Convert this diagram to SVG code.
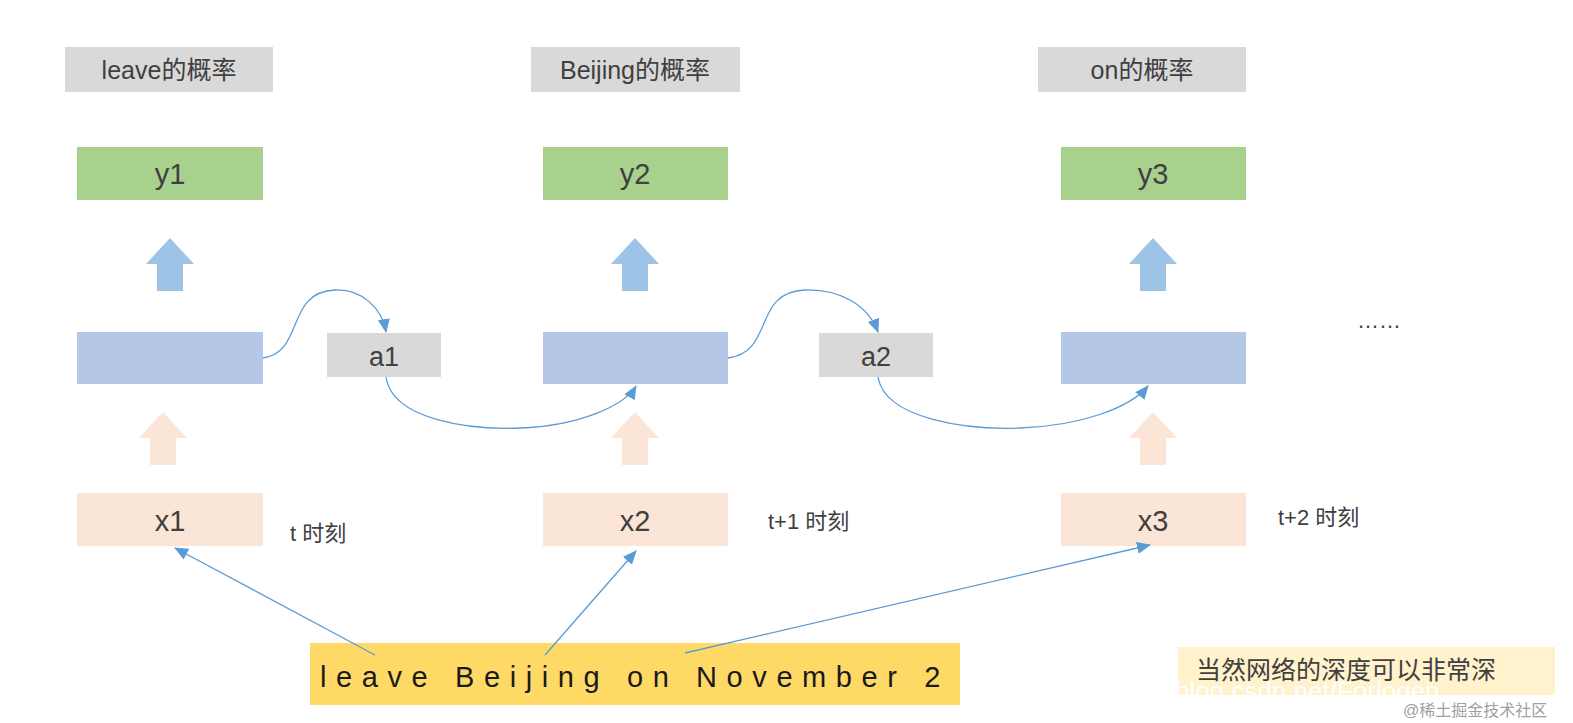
<svg xmlns="http://www.w3.org/2000/svg" width="1573" height="723" viewBox="0 0 1573 723">
<defs>
<style>
text{font-family:"Liberation Sans","Noto Sans CJK SC",sans-serif;fill:#404040}
.g{fill:#d9d9d9}.gr{fill:#a9d18e}.b{fill:#b4c7e7}.p{fill:#fbe5d6}
.c{fill:none;stroke:#5b9bd5;stroke-width:1.3}
.t{font-size:25px;text-anchor:middle}
</style>
<marker id="ar" markerWidth="14" markerHeight="14" refX="13" refY="6" orient="auto" markerUnits="userSpaceOnUse" viewBox="0 0 14 12"><path d="M0,0L14,6L0,12z" fill="#5b9bd5"/></marker>
<path id="ua" d="M-13,0V-27H-24L0,-53L24,-27H13V0z"/>
</defs>
<rect width="1573" height="723" fill="#fff"/>
<g id="labels">
<rect class="g" x="65" y="47" width="208" height="45"/><text class="t" x="169" y="79">leave的概率</text>
<rect class="g" x="531" y="47" width="209" height="45"/><text class="t" x="635" y="79">Beijing的概率</text>
<rect class="g" x="1038" y="47" width="208" height="45"/><text class="t" x="1142" y="79">on的概率</text>
</g>
<g id="y"><rect class="gr" x="77" y="147" width="186" height="53"/><text class="t" x="170" y="184" style="font-size:29px">y1</text>
<rect class="gr" x="543" y="147" width="185" height="53"/><text class="t" x="635" y="184" style="font-size:29px">y2</text>
<rect class="gr" x="1061" y="147" width="185" height="53"/><text class="t" x="1153" y="184" style="font-size:29px">y3</text></g>
<g id="uparrows" fill="#9dc3e6">
<use href="#ua" x="170" y="291"/><use href="#ua" x="635" y="291"/><use href="#ua" x="1153" y="291"/></g>
<g id="hidden"><rect class="b" x="77" y="332" width="186" height="52"/><rect class="b" x="543" y="332" width="185" height="52"/><rect class="b" x="1061" y="332" width="185" height="52"/></g>
<g id="a"><rect class="g" x="327" y="333" width="114" height="44"/><text class="t" x="384" y="366" style="font-size:27px">a1</text>
<rect class="g" x="819" y="333" width="114" height="44"/><text class="t" x="876" y="366" style="font-size:27px">a2</text></g>
<g id="inarrows" fill="#fbe5d6"><use href="#ua" x="163" y="465"/><use href="#ua" x="635" y="465"/><use href="#ua" x="1153" y="465"/></g>
<g id="x"><rect class="p" x="77" y="493" width="186" height="53"/><text class="t" x="170" y="531" style="font-size:29px">x1</text>
<rect class="p" x="543" y="493" width="185" height="53"/><text class="t" x="635" y="531" style="font-size:29px">x2</text>
<rect class="p" x="1061" y="493" width="185" height="53"/><text class="t" x="1153" y="531" style="font-size:29px">x3</text></g>
<g id="times" style="font-size:22px"><text x="290" y="541">t 时刻</text><text x="768" y="529">t+1 时刻</text><text x="1278" y="525">t+2 时刻</text></g>
<text x="1357" y="328" style="font-size:22px">……</text>
<g id="sentence"><rect x="310" y="643" width="650" height="62" fill="#ffd966"/><text x="320" y="687" style="font-size:29px;letter-spacing:9.6px;fill:#1a1a1a">leave Beijing on November 2</text></g>
<g id="note"><rect x="1178" y="647" width="377" height="48" fill="#fff2cc"/><text x="1196" y="679" style="font-size:25px">当然网络的深度可以非常深</text>
<text x="1175" y="700" style="font-size:26px;fill:#fff">blog.csdn.net/Forlogen</text>
<text x="1403" y="716" style="font-size:16px;fill:#a0a0a0">@稀土掘金技术社区</text></g>
<g id="connectors">
<path class="c" marker-end="url(#ar)" d="M263,358 C305,352 285,292 335,290 C362,289 382,308 386,332"/>
<path class="c" marker-end="url(#ar)" d="M386,377 C392,420 470,430 520,428 C580,426 625,405 636,386"/>
<path class="c" marker-end="url(#ar)" d="M728,358 C775,352 752,292 805,290 C840,289 868,305 878,332"/>
<path class="c" marker-end="url(#ar)" d="M878,377 C885,420 970,430 1020,428 C1080,426 1130,408 1148,386"/>
<path class="c" marker-end="url(#ar)" d="M375,655 L175,548"/>
<path class="c" marker-end="url(#ar)" d="M545,655 L636,551"/>
<path class="c" marker-end="url(#ar)" d="M685,653 L1150,545"/>
</g>
</svg>
